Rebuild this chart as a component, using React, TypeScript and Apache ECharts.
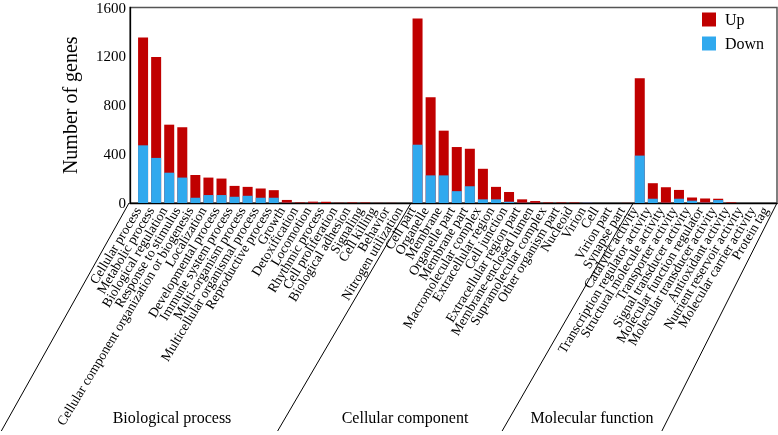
import React, { useEffect, useRef } from "react";
import * as echarts from "echarts";

const bpCategories = [
  "Cellular process", "Metabolic process", "Biological regulation", "Response to stimulus",
  "Cellular component organization or biogenesis", "Localization", "Developmental process",
  "Immune system process", "Multi-organism process", "Multicellular organismal process",
  "Reproductive process", "Growth", "Detoxification", "Locomotion", "Rhythmic process",
  "Cell proliferation", "Biological adhesion", "Signaling", "Cell killing", "Behavior",
  "Nitrogen utilization",
];
const bpDown = [472, 369, 248, 208, 43, 65, 65, 51, 59, 43, 43, 2, 0, 1, 0, 0, 0, 0, 0, 0, 0];
const bpUp = [883, 826, 393, 412, 186, 143, 135, 89, 73, 76, 62, 23, 4, 10, 10, 2, 4, 4, 1, 1, 0];

const ccCategories = [
  "Cell part", "Organelle", "Membrane", "Organelle part", "Membrane part",
  "Macromolecular complex", "Extracellular region", "Cell junction", "Extracellular region part",
  "Membrane-enclosed lumen", "Supramolecular complex", "Other organism part", "Nucleoid",
  "Virion", "Cell", "Virion part", "Synapse part",
];
const ccDown = [477, 226, 226, 97, 137, 30, 30, 11, 2, 1, 0, 0, 0, 3, 0, 0, 0];
const ccUp = [1033, 639, 366, 361, 307, 250, 102, 80, 28, 15, 4, 4, 4, 0, 0, 0, 1];

const mfCategories = [
  "Catalytic activity", "Transcription regulator activity", "Structural molecule activity",
  "Transporter activity", "Signal transducer activity", "Molecular function regulator",
  "Molecular transducer activity", "Antioxidant activity", "Nutrient reservoir activity",
  "Molecular carrier activity", "Protein tag",
];
const mfDown = [388, 35, 2, 35, 19, 3, 24, 0, 0, 0, 0];
const mfUp = [633, 127, 127, 72, 26, 34, 11, 5, 0, 0, 0];

const groupNames = ["Biological process", "Cellular component", "Molecular function"];
const yTicks = [0, 400, 800, 1200, 1600];

const categories = [...bpCategories, ...ccCategories, ...mfCategories];
const downValues = [...bpDown, ...ccDown, ...mfDown];
const upValues = [...bpUp, ...ccUp, ...mfUp];

const FONT = "Liberation Serif, Times New Roman, serif";

export default function App() {
  const ref = useRef<HTMLDivElement>(null);
  useEffect(() => {
    const chart = echarts.init(ref.current!, null, { renderer: "svg" });
    const xMin = -1;
    const xMax = categories.length - 0.5;
    const labelShift = 0.4;
    chart.setOption({
      animation: false,
      textStyle: { fontFamily: FONT },
      grid: {
        left: 130, right: 1, top: 5, bottom: 232,
        show: true, borderColor: "#555", borderWidth: 1.5,
      },
      legend: {
        data: ["Up", "Down"],
        orient: "vertical",
        left: 702, top: 11.5, padding: 0,
        itemWidth: 14, itemHeight: 14, itemGap: 8,
        icon: "rect",
        textStyle: { fontSize: 16, fontFamily: FONT, color: "#000", padding: [0, 0, 0, 4] },
      },
      xAxis: [
        {
          type: "value",
          min: xMin,
          max: xMax,
          interval: 1,
          splitLine: { show: false },
          axisTick: { show: false },
          axisLine: { onZero: false, lineStyle: { color: "#000", width: 1.3 } },
          axisLabel: { show: false },
        },
        {
          type: "value",
          position: "bottom",
          min: xMin + labelShift,
          max: xMax + labelShift,
          interval: 0.2,
          splitLine: { show: false },
          axisTick: { show: false },
          axisLine: { show: false },
          axisLabel: {
            rotate: 59,
            fontSize: 13.5,
            fontFamily: FONT,
            color: "#000",
            margin: 5,
            showMaxLabel: false,
            showMinLabel: false,
            formatter: (v: number) => {
              const k = Math.round(v);
              return Math.abs(v - k) < 1e-6 && k >= 0 && k < categories.length ? categories[k] : "";
            },
          },
        },
      ],
      yAxis: {
        type: "value",
        min: yTicks[0],
        max: yTicks[yTicks.length - 1],
        interval: yTicks[1] - yTicks[0],
        name: "Number of genes",
        nameLocation: "middle",
        nameGap: 50,
        nameTextStyle: { fontSize: 20, fontFamily: FONT, color: "#000" },
        splitLine: { show: false },
        axisTick: { show: false },
        axisLine: { show: true, onZero: false, lineStyle: { color: "#000", width: 1.3 } },
        axisLabel: {
          fontSize: 15, fontFamily: FONT, color: "#000", margin: 4,
          formatter: (v: number) => String(v),
        },
      },
      series: [
        {
          name: "Up", type: "bar", barWidth: 10, barGap: "-100%", xAxisIndex: 0,
          itemStyle: { color: "#C00000" },
          data: upValues.map((v, i) => [i, v + downValues[i]]),
        },
        {
          name: "Down", type: "bar", barWidth: 10, barGap: "-100%", xAxisIndex: 0,
          itemStyle: { color: "#30A9EE" },
          data: downValues.map((v, i) => [i, v]),
        },
      ],
    });

    const y0 = chart.convertToPixel({ yAxisIndex: 0 }, 0) as number;
    const leftX = 129;
    const b1 = chart.convertToPixel({ xAxisIndex: 0 }, bpCategories.length - 0.5) as number;
    const b2 = chart.convertToPixel({ xAxisIndex: 0 }, bpCategories.length + ccCategories.length - 0.5) as number;
    const rightX = chart.convertToPixel({ xAxisIndex: 0 }, categories.length - 0.5) as number;
    const yBottom = 431;
    const tops = [leftX, b1, b2, rightX];
    const slopes = [0.56, 0.585, 0.575, 0.505];
    const lines = tops.map((x, i) => ({
      type: "line",
      shape: { x1: x, y1: y0, x2: x - (yBottom - y0) * slopes[i], y2: yBottom },
      style: { stroke: "#000", lineWidth: 1 },
      silent: true,
    }));
    const labelPos = [172, 405, 592];
    const texts = groupNames.map((t, i) => ({
      type: "text",
      x: labelPos[i],
      y: 417,
      style: {
        text: t, fill: "#000", fontSize: 16, fontFamily: FONT,
        textAlign: "center", textVerticalAlign: "middle",
      },
      silent: true,
    }));
    chart.setOption({ graphic: [...lines, ...texts] });

    return () => chart.dispose();
  }, []);
  return (
    <div
      ref={ref}
      style={{ position: "fixed", left: 0, top: 0, width: 778, height: 435 }}
    />
  );
}
